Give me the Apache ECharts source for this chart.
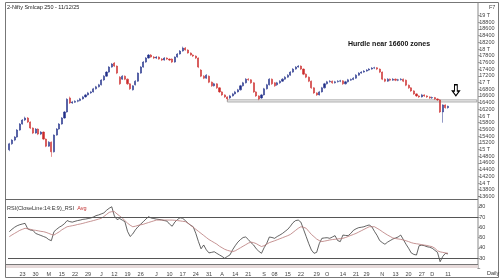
<!DOCTYPE html>
<html><head><meta charset="utf-8">
<script src="https://cdn.jsdelivr.net/npm/echarts@6/dist/echarts.min.js"></script>
<style>html,body{margin:0;padding:0;background:#fff}#c{width:500px;height:280px}</style>
</head><body><div id="c"></div>
<script>
// [open, close, low, high]
const ohlc = [
[14990,15170,14950,15200],[15170,15280,15140,15310],[15280,15370,15250,15400],[15370,15580,15350,15610],[15580,15760,15560,15790],
[15760,15880,15740,15910],[15880,15940,15850,15980],[15940,15820,15790,15970],[15820,15640,15610,15840],[15640,15490,15460,15660],
[15490,15610,15470,15640],[15610,15460,15430,15630],[15460,15520,15430,15550],[15520,15310,15280,15540],[15310,15100,15070,15330],
[15100,15220,15080,15250],[15220,14930,14780,15240],[14930,15430,14910,15450],[15430,15610,15410,15640],[15610,15760,15590,15790],
[15760,15940,15740,15970],[15940,16120,15920,16150],[16120,16500,16100,16530],[16540,16390,16360,16580],[16390,16420,16360,16450],
[16410,16440,16390,16470],[16440,16460,16410,16490],[16460,16510,16440,16540],[16510,16570,16490,16600],[16570,16630,16550,16660],
[16630,16690,16610,16720],[16690,16720,16660,16750],[16720,16810,16700,16840],[16810,16870,16790,16900],[16870,16930,16850,16960],
[16930,17075,16910,17100],[17075,17190,17050,17220],[17190,17310,17170,17340],[17310,17460,17290,17490],[17460,17550,17440,17580],
[17580,17490,17460,17610],[17490,17280,17250,17510],[17160,16960,16930,17190],[17100,17190,17080,17220],[17190,17100,17070,17210],
[17100,16960,16930,17120],[16960,16810,16780,16980],[16780,16900,16760,16920],[16930,17040,16910,17070],[17040,17280,17020,17300],
[17280,17460,17260,17490],[17460,17610,17440,17640],[17610,17730,17590,17760],[17730,17820,17710,17850],[17820,17760,17740,17850],
[17760,17730,17700,17790],[17730,17760,17700,17790],[17760,17700,17680,17780],[17700,17670,17640,17730],[17670,17730,17650,17760],
[17730,17700,17670,17750],[17700,17670,17640,17720],[17700,17610,17580,17720],[17610,17760,17590,17780],[17760,17850,17740,17880],
[17850,17940,17830,17970],[17940,18030,17920,18070],[18030,17970,17950,18060],[17970,17880,17860,17990],[17880,17820,17800,17900],
[17820,17790,17760,17840],[17790,17730,17700,17810],[17730,17460,17430,17750],[17370,17190,17160,17400],[17190,17130,17100,17220],
[17130,17220,17110,17250],[17190,17010,16980,17210],[17010,16900,16870,17030],[16900,16960,16880,16990],[16960,16840,16810,16980],
[16840,16720,16690,16860],[16720,16630,16600,16740],[16630,16570,16540,16650],[16570,16510,16470,16590],[16540,16600,16510,16630],
[16600,16660,16580,16690],[16660,16720,16640,16750],[16720,16780,16700,16810],[16780,16900,16760,16930],[16900,16990,16880,17020],
[16990,17100,16970,17130],[17100,17080,17050,17130],[17080,16990,16960,17100],[16990,16720,16690,17010],[16720,16600,16570,16740],
[16600,16510,16470,16620],[16540,16630,16510,16660],[16630,16810,16610,16840],[16810,16930,16790,16960],[16930,17100,16910,17130],
[17100,16960,16930,17120],[16990,16900,16870,17010],[16930,16990,16900,17020],[16990,17040,16960,17070],[17040,17100,17020,17130],
[17100,17160,17080,17190],[17160,17220,17140,17250],[17220,17310,17200,17340],[17310,17400,17290,17430],[17400,17460,17380,17490],
[17460,17490,17440,17520],[17490,17400,17370,17510],[17400,17250,17220,17420],[17250,17160,17130,17270],[17160,17040,17010,17180],
[17040,16840,16810,17060],[16840,16690,16660,16860],[16690,16630,16600,16710],[16630,16720,16610,16750],[16720,16840,16700,16870],
[16840,16960,16820,16990],[16960,17020,16940,17050],[17020,17040,17000,17070],[17040,16990,16960,17060],[16990,17020,16970,17050],
[17020,17040,17000,17070],[17040,17050,17010,17080],[17050,16960,16930,17070],[16960,17020,16940,17050],[17020,17080,17000,17110],
[17070,17090,17050,17120],[17090,17130,17070,17160],[17130,17220,17110,17250],[17220,17280,17200,17310],[17280,17310,17260,17340],
[17310,17340,17290,17370],[17340,17370,17320,17400],[17370,17400,17350,17430],[17400,17430,17380,17460],[17430,17440,17400,17470],
[17440,17400,17370,17460],[17400,17310,17280,17420],[17310,17100,17070,17330],[17100,17040,17010,17120],[17040,17100,17020,17130],
[17100,17070,17040,17120],[17070,17100,17050,17130],[17100,17070,17040,17120],[17070,17080,17040,17110],[17080,17100,17060,17130],
[17100,17040,17010,17120],[17070,16920,16890,17090],[16920,16840,16810,16940],[16840,16750,16720,16860],[16750,16660,16630,16770],
[16660,16600,16570,16680],[16600,16570,16540,16620],[16570,16630,16550,16660],[16630,16600,16570,16650],[16600,16570,16540,16620],
[16570,16540,16510,16590],[16540,16550,16510,16580],[16550,16510,16480,16570],[16510,16480,16450,16530],[16480,16120,16090,16500],
[16120,16330,15800,16350],[16330,16250,16220,16350],[16250,16290,16220,16310]
];
const rsi = [
55.7,58,60,61.5,62.5,63.2,63.8,58.5,57.3,57,54,53,52,51,50,48,46.9,55.7,58,60,
61.5,63.5,66.5,65.5,65,65.8,66.5,67,67.7,68,68.5,69,70,71.3,72,73,74,76.5,78.5,80,
71,67.5,68.5,67,65.4,56,51,53.5,57.5,60.5,63,65.4,68,70.3,69,68.5,68,67.6,67.2,66.5,
66,63,61,65,67.5,69.3,68.7,66.5,64,62,60.5,54,46,39,42.7,38,35,35.5,36.1,34.5,
33,31.5,29.7,31.5,33,38,42,45.5,48,50,50.5,48,45,42.7,39,36.5,34.6,40,44.3,50.5,
50,49.2,51,52.4,54,56,58,61,64.5,66.5,67,65,58,51,44,37.8,34.6,35.5,44,49.2,
49.6,49.8,49.2,50.5,51.8,47,46,52.4,52,51.8,54,57,58.5,59.6,60,60.5,61.5,62.2,60.5,56,
52,47,45,43.4,45.5,47,48.5,49.5,50.5,52.4,48,43.5,39.5,35,33.5,32.9,42,42.5,42,41,
40.5,39.5,37.5,35.5,26.4,31.5,34.5,34
];
const rsiAvg = [
50.8,52.5,54,55.5,57,58,59,58.5,58,57.3,57,56.5,56,55.7,55,54,53,52.4,54,55.5,
57.5,59,60.5,61,61.5,62,62.7,63.2,63.8,64.5,65.2,65.8,66.5,67.2,68,68.7,70.5,72.5,74.5,75.2,
75.2,73,71,69,66.5,64,62,60.5,61,61.8,62.4,62.9,63.8,64.6,65.4,66.2,67,67,67,67,
67,67,67,66.8,66.5,66.2,65.8,65.5,64,62,60,58,56,54,52,50,48,46.5,45,43.5,
41.5,40,38.5,37.5,36.8,36.2,37,38.5,40,41.5,43,44.5,45.5,45,44,42.5,41.2,42,43.5,45,
45.9,46.8,47.8,48.8,49.8,50.8,51.8,53,55,57,59,60.5,60,59,56,53,50.8,48.5,47,46,
46.5,47,47.6,48,48.3,48.6,48.9,49.2,50,51,52,53,54,55.3,56.6,57.9,59.2,60.5,60.5,60.5,
59,57.5,55.7,54,52.4,51,49.5,49,48.6,48.2,47.6,46.8,46,45,44.3,43.9,43.5,43,42.6,42.2,
41.6,41,39.5,37,36,35.5,35,34.6
];
const tickIndex = [5,10,15,20,25,30,35,40,45,50,56,61,66,71,76,81,86,91,97,101,106,111,117,121,127,132,136,142,147,152,157,161,167];
const tickText  = ['23','30','M','15','22','29','J','12','19','26','J','10','17','24','31','A','14','21','S','08','15','22','29','O','14','21','29','N','13','20','27','D','11'];
const totalSlots = 179;
const hurdleLow = 16420, hurdleHigh = 16480, hurdleFrom = 83;
const arrowPos = [170, 16770];
const rsiLevels = [70, 30];
const title = '2-Nifty Smlcap 250 - 11/12/25';
const note = 'Hurdle near 16600 zones';

const cats = Array.from({length: totalSlots}, (_, i) => String(i));
const tickMap = {};
tickIndex.forEach((ix, k) => { tickMap[ix] = tickText[k]; });
const lastClose = ohlc[ohlc.length - 1][1];

const UP = '#22308a', DOWN = '#cc2a2a';
const chart = echarts.init(document.getElementById('c'), null, {renderer: 'canvas'});
const F = 'Liberation Sans, Arial, sans-serif';

chart.setOption({
  animation: false,
  backgroundColor: '#fff',
  grid: [
    {left: 8, width: 470.2, top: 15.5, height: 180.9},
    {left: 8, width: 470.2, top: 196.5, height: 71.75}
  ],
  xAxis: [
    {type: 'category', gridIndex: 0, data: cats, show: false},
    {type: 'category', gridIndex: 1, data: cats, axisLine: {show: false}, axisTick: {show: false},
     axisLabel: {interval: 0, fontSize: 5.5, color: '#444', margin: 3, fontFamily: F,
       formatter: (v, i) => tickMap[i] || ''}}
  ],
  yAxis: [
    {type: 'value', gridIndex: 0, position: 'right', min: 13600, max: 19000, interval: 200,
     axisLine: {show: false}, axisTick: {show: true, length: 2, lineStyle: {color: '#666', width: 0.6}},
     splitLine: {show: false},
     axisLabel: {fontSize: 5.5, color: '#444', margin: 1, fontFamily: F,
       formatter: v => (v % 1000 === 0 ? (v / 1000) + ' T' : String(v))}},
    {type: 'value', gridIndex: 1, position: 'right', min: 20, max: 90, interval: 10,
     axisLine: {show: false}, axisTick: {show: true, length: 2, lineStyle: {color: '#666', width: 0.6}},
     splitLine: {show: false},
     axisLabel: {fontSize: 5.5, color: '#444', margin: 1, fontFamily: F,
       formatter: v => (v >= 30 && v <= 80 ? String(v) : '')}}
  ],
  series: [
    {type: 'candlestick', xAxisIndex: 0, yAxisIndex: 0, data: ohlc, barWidth: 1.6,
     itemStyle: {color: UP, color0: DOWN, borderColor: UP, borderColor0: DOWN, borderWidth: 0.5},
     markArea: {silent: true, itemStyle: {color: '#ffffff', borderColor: '#999', borderWidth: 0.9},
       data: [[{xAxis: hurdleFrom, yAxis: hurdleHigh}, {xAxis: totalSlots - 1, yAxis: hurdleLow}]]},
     markPoint: {silent: true, data: [{coord: arrowPos, value: '',
       symbol: 'path://M3,0 L7,0 L7,8 L10,8 L5,14 L0,8 L3,8 Z', symbolSize: [7, 11],
       itemStyle: {color: '#fff', borderColor: '#000', borderWidth: 1.2}, label: {show: false}}]},
     markLine: {silent: true, symbol: 'none', lineStyle: {opacity: 0},
       data: [{yAxis: lastClose, label: {show: true, position: 'end', distance: 0, formatter: String(lastClose.toFixed(0)),
         backgroundColor: '#111', color: '#fff', fontSize: 6, fontFamily: F, padding: [1, 2]}}]}
    },
    {type: 'line', xAxisIndex: 1, yAxisIndex: 1, data: rsi, symbol: 'none', lineStyle: {color: '#222', width: 0.7},
     markLine: {silent: true, symbol: 'none', label: {show: false}, lineStyle: {color: '#555', width: 1, type: 'solid'},
       data: rsiLevels.map(v => ({yAxis: v}))}},
    {type: 'line', xAxisIndex: 1, yAxisIndex: 1, data: rsiAvg, symbol: 'none', lineStyle: {color: '#b87878', width: 0.8}}
  ],
  graphic: [
    {type: 'rect', shape: {x: 5.5, y: 2.5, width: 493, height: 275}, style: {fill: 'none', stroke: '#777', lineWidth: 1}},
    {type: 'line', shape: {x1: 5.5, y1: 199.5, x2: 478, y2: 199.5}, style: {stroke: '#666', lineWidth: 1}},
    {type: 'line', shape: {x1: 478, y1: 2.5, x2: 478, y2: 269}, style: {stroke: '#888', lineWidth: 1}},
    {type: 'line', shape: {x1: 5.5, y1: 264.5, x2: 478, y2: 264.5}, style: {stroke: '#777', lineWidth: 1}},
    {type: 'rect', shape: {x: 6, y: 265, width: 472, height: 3}, style: {fill: '#e6dada'}},
    {type: 'text', x: 7, y: 4, style: {text: title, fontSize: 5.5, fill: '#222', fontFamily: F}},
    {type: 'text', x: 489, y: 4, style: {text: 'F7', fontSize: 5.5, fill: '#444', fontFamily: F}},
    {type: 'text', x: 7, y: 202, style: {rich: {a: {fontSize: 5.5, fill: '#333', fontFamily: F}, b: {fontSize: 5.5, fill: '#c03030', fontFamily: F}},
      text: '{a|RSI(CloseLine:14:E:9)_RSI} {b|Avg}'}},
    {type: 'text', x: 487, y: 270, style: {text: 'Daily', fontSize: 5.5, fill: '#333', fontFamily: F}},
    {type: 'text', x: 348, y: 41, style: {text: note, fontSize: 7, fontWeight: 'bold', fill: '#111', fontFamily: F}}
  ]
});
</script></body></html>
